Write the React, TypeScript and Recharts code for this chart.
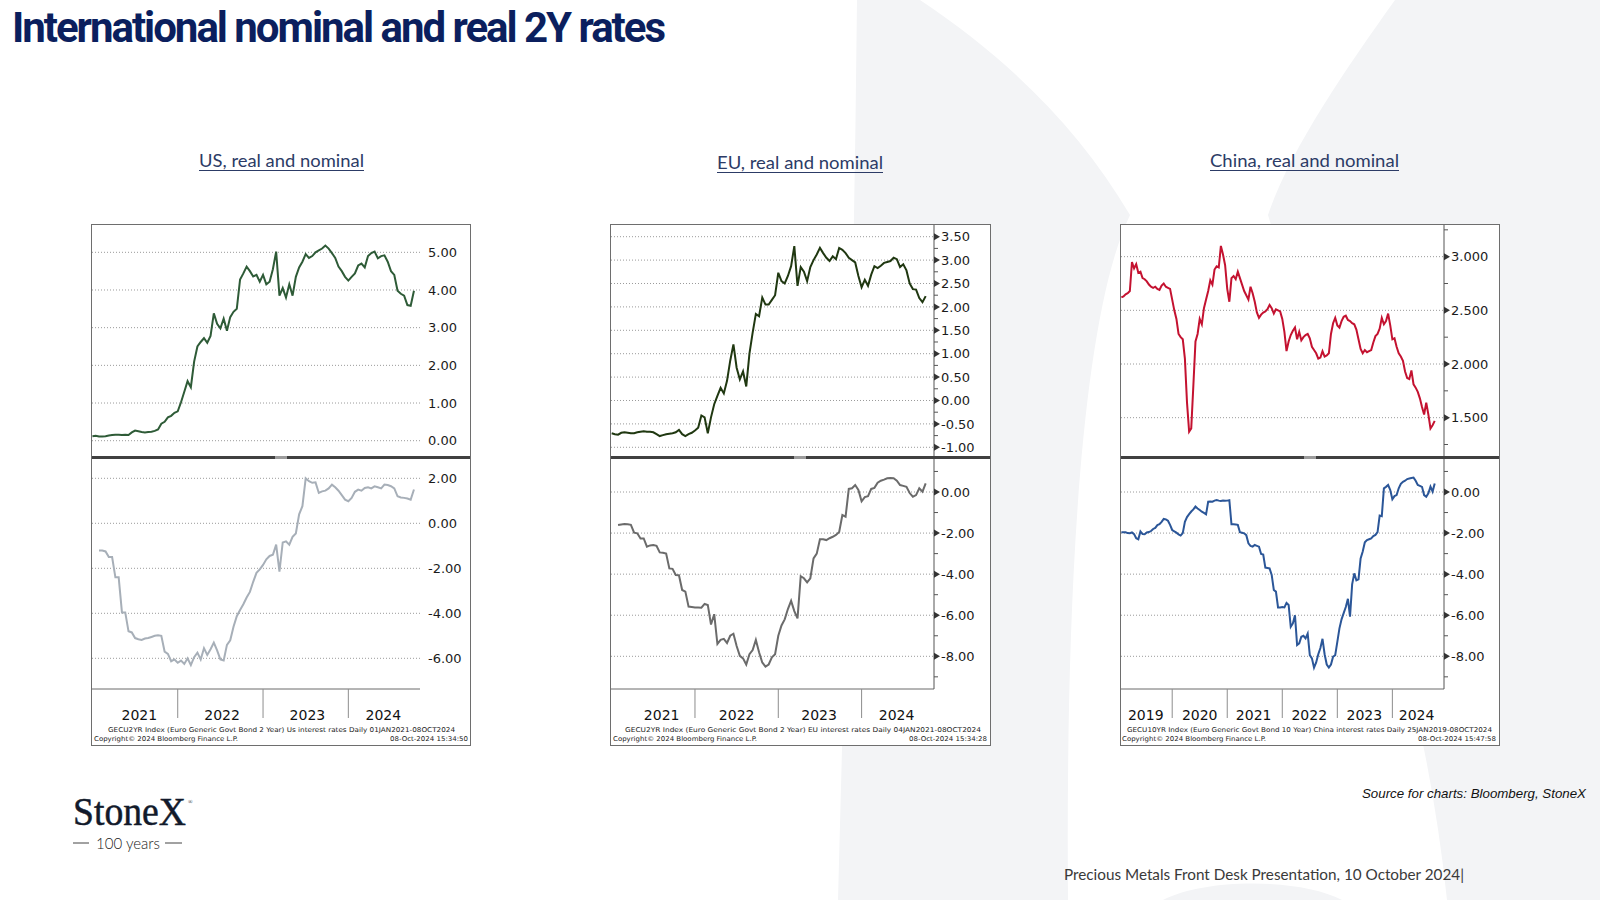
import React from "react";
import { LineChart, Line, XAxis, YAxis, CartesianGrid } from "recharts";

// bi-weekly readings (26 per year) taken off the Bloomberg panels
const usNominal = [
  0.12, 0.13, 0.11, 0.11, 0.12, 0.14, 0.15, 0.16, 0.16, 0.15, 0.16, 0.15, 0.22, 0.27, 0.25, 0.23, 0.22, 0.23, 0.24, 0.26, 0.3, 0.45, 0.5, 0.62, 0.66, 0.74,
  0.78, 1.02, 1.3, 1.58, 1.42, 2.1, 2.5, 2.62, 2.72, 2.6, 2.78, 3.38, 3.1, 2.98, 3.24, 2.92, 3.28, 3.42, 3.5, 4.28, 4.44, 4.62, 4.5, 4.36, 4.4, 4.22,
  4.4, 4.15, 4.22, 4.55, 5.02, 3.85, 4.05, 3.8, 4.15, 3.85, 4.35, 4.6, 4.75, 4.95, 4.85, 4.9, 5.0, 5.05, 5.1, 5.18, 5.1, 4.98, 4.85, 4.62, 4.5, 4.35,
  4.25, 4.35, 4.44, 4.65, 4.7, 4.6, 4.9, 4.98, 5.02, 4.84, 4.9, 4.92, 4.75, 4.5, 4.4, 3.98, 3.9, 3.85, 3.6, 3.58, 3.98,
];
const usReal = [
  -1.21, -1.21, -1.25, -1.5, -1.5, -2.4, -2.4, -3.96, -3.96, -4.8,
  -4.85, -5.1, -5.15, -5.18, -5.12, -5.1, -5.05, -5.0, -4.98, -5.0,
  -5.7, -5.8, -6.13, -6.05, -6.2, -6.1, -6.25, -6.0, -6.3, -5.95,
  -5.75, -6.05, -5.55, -5.85, -5.6, -5.3, -5.65, -6.05, -6.1, -5.4,
  -5.2, -4.6, -4.13, -3.85, -3.6, -3.3, -3.05, -2.6, -2.2, -2.05,
  -1.85, -1.6, -1.45, -1.4, -0.95, -2.15, -0.85, -0.8, -0.95, -0.6,
  -0.45, 0.4, 0.76, 2.0, 1.87, 1.8, 1.82, 1.35, 1.42, 1.45,
  1.55, 1.72, 1.6, 1.45, 1.25, 1.05, 0.98, 1.13, 1.4, 1.5,
  1.45, 1.57, 1.6, 1.55, 1.64, 1.6, 1.55, 1.72, 1.7, 1.65,
  1.55, 1.2, 1.15, 1.13, 1.1, 1.05, 1.5,
];
const euNominal = [
  -0.7, -0.72, -0.73, -0.69, -0.68, -0.69, -0.7, -0.7, -0.68, -0.67,
  -0.66, -0.67, -0.67, -0.68, -0.72, -0.76, -0.74, -0.72, -0.71, -0.7,
  -0.68, -0.63, -0.72, -0.76, -0.72, -0.69, -0.64, -0.58, -0.32, -0.36,
  -0.7, -0.36, -0.08, 0.1, 0.27, 0.15, 0.42, 0.85, 1.2, 0.7,
  0.45, 0.62, 0.3, 1.0, 1.45, 1.85, 1.8, 2.2, 2.05, 2.05,
  2.15, 2.25, 2.73, 2.55, 2.5, 2.66, 2.87, 3.3, 2.45, 2.85,
  2.75, 2.55, 2.85, 3.0, 3.12, 3.26, 3.15, 3.05, 2.98, 3.08,
  3.02, 3.26, 3.22, 3.15, 3.05, 3.0, 2.95, 2.66, 2.42, 2.58,
  2.45, 2.69, 2.87, 2.83, 2.88, 2.94, 2.96, 2.98, 3.05, 3.02,
  2.85, 2.91, 2.78, 2.5, 2.38, 2.37, 2.19, 2.1, 2.23,
];
const euReal = [
  -1.61, -1.58, -1.56, -1.57, -1.6, -1.98, -2.01, -2.26, -2.26, -2.66,
  -2.6, -2.58, -2.62, -2.94, -2.96, -3.0, -3.72, -3.74, -4.04, -4.05,
  -4.77, -4.85, -5.58, -5.6, -5.62, -5.62, -5.63, -5.45, -5.5, -6.45,
  -5.95, -7.4, -7.2, -7.15, -7.35, -7.0, -6.9, -7.5, -7.98, -8.1,
  -8.4, -7.9, -7.7, -7.2, -7.8, -8.3, -8.5, -8.4, -8.05, -7.9,
  -7.0, -6.5, -6.2, -5.7, -5.3, -5.8, -6.15, -4.1, -4.2, -4.4,
  -4.2, -3.23, -3.0, -2.3, -2.3, -2.34, -2.25, -2.18, -2.09, -1.95,
  -1.12, -1.2, 0.15, 0.18, 0.34, 0.1, -0.45, -0.25, -0.2, 0.15,
  0.2, 0.45, 0.55, 0.6, 0.67, 0.68, 0.67, 0.55, 0.34, 0.3,
  0.25, -0.05, -0.23, -0.15, 0.18, 0.02, 0.42,
];
const cnNominal = [
  2.62, 2.63, 2.65, 2.66, 2.68, 2.95, 2.89, 2.93, 2.85, 2.86,
  2.8, 2.79, 2.77, 2.74, 2.72, 2.71, 2.72, 2.7, 2.69, 2.73,
  2.75, 2.72, 2.71, 2.7, 2.6, 2.5, 2.42, 2.28, 2.25, 2.23,
  2.05, 1.64, 1.37, 1.4, 1.8, 2.21, 2.28, 2.42, 2.37, 2.52,
  2.6, 2.68, 2.78, 2.74, 2.88, 2.91, 2.9, 3.1, 3.02, 2.92,
  2.7, 2.58, 2.8, 2.82, 2.79, 2.86, 2.8, 2.74, 2.68, 2.64,
  2.6, 2.72, 2.66, 2.58, 2.48, 2.43, 2.46, 2.48, 2.49, 2.51,
  2.55, 2.52, 2.47, 2.51, 2.5, 2.49, 2.42, 2.3, 2.12, 2.21,
  2.27, 2.31, 2.34, 2.23, 2.3, 2.22, 2.25, 2.27, 2.28, 2.24,
  2.16, 2.13, 2.1, 2.05, 2.06, 2.12, 2.07, 2.08, 2.1, 2.28,
  2.38, 2.43, 2.36, 2.34, 2.4, 2.44, 2.45, 2.41, 2.4, 2.38,
  2.37, 2.32, 2.23, 2.14, 2.1, 2.13, 2.11, 2.12, 2.13, 2.2,
  2.26, 2.28, 2.33, 2.43, 2.37, 2.4, 2.47, 2.36, 2.23, 2.24,
  2.16, 2.1, 2.07, 2.03, 1.93, 1.87, 1.86, 1.94, 1.81, 1.78,
  1.74, 1.68, 1.6, 1.53, 1.64, 1.53, 1.4, 1.43, 1.47,
];
const cnReal = [
  -1.96, -1.96, -1.96, -2.0, -2.01, -1.97, -2.05, -2.25, -2.3, -1.92,
  -2.05, -2.06, -1.97, -1.95, -1.9, -1.8, -1.75, -1.61, -1.57, -1.45,
  -1.31, -1.33, -1.4, -1.6, -1.85, -1.92, -1.98, -2.06, -2.12, -2.0,
  -1.45, -1.22, -1.08, -0.95, -0.85, -0.71, -0.8, -0.88, -0.96, -1.02,
  -1.09, -0.47, -0.46, -0.47, -0.42, -0.39, -0.42, -0.44, -0.42, -0.43,
  -0.42, -0.4, -1.57, -1.57, -1.58, -1.6, -1.96, -1.98, -2.01, -2.1,
  -2.5, -2.62, -2.66, -2.58, -2.62, -2.66, -3.02, -3.05, -3.68, -3.7,
  -3.72, -4.04, -4.77, -4.85, -5.62, -5.62, -5.6, -5.62, -5.4, -5.5,
  -6.56, -6.4, -6.0, -7.45, -7.37, -7.05, -7.0, -7.13, -6.9, -7.94,
  -8.1, -8.55, -8.3, -7.9, -7.6, -7.15, -7.9, -8.4, -8.55, -8.4,
  -8.02, -7.95, -7.3, -6.64, -6.2, -5.9, -5.6, -5.2, -6.07, -4.5,
  -3.96, -4.3, -4.25, -3.23, -2.9, -2.45, -2.34, -2.3, -2.26, -2.15,
  -2.09, -1.95, -1.15, -1.18, 0.18, 0.25, 0.34, 0.1, -0.35, -0.2,
  -0.15, 0.18, 0.4, 0.5, 0.55, 0.63, 0.66, 0.68, 0.7, 0.55,
  0.34, 0.3, 0.25, -0.15, -0.23, -0.06, 0.26, 0.02, 0.42,
];

// axis ticks
const usTopTicks = [0, 1, 2, 3, 4, 5];
const usLowTicks = [-6, -4, -2, 0, 2];
const euTopTicks = [-1, -0.5, 0, 0.5, 1, 1.5, 2, 2.5, 3, 3.5];
const euTopMinor = [-0.75, -0.25, 0.25, 0.75, 1.25, 1.75, 2.25, 2.75, 3.25];
const lowTicks = [-8, -6, -4, -2, 0];
const lowMinor = [-9, -7, -5, -3, -1, 1];
const cnTopTicks = [1.5, 2, 2.5, 3];
const cnTopMinor = [1.25, 1.75, 2.25, 2.75, 3.25];

const years2021 = ["2021", "2022", "2023", "2024"];
const years2019 = ["2019", "2020", "2021", "2022", "2023", "2024"];
const usYearCenters = [2021.55, 2022.52, 2023.52, 2024.41];
const euYearCenters = [2021.6, 2022.5, 2023.49, 2024.42];
const cnYearCenters = [2019.52, 2020.5, 2021.48, 2022.49, 2023.49, 2024.44];
const bounds2021 = [2022, 2023, 2024];
const bounds2019 = [2020, 2021, 2022, 2023, 2024];

const PER_YEAR = 26;
const toRows = (vals: number[], startYear: number, firstIdx: number) =>
  vals.map((v, k) => ({ t: startYear + (firstIdx + k) / PER_YEAR, v }));

const AXIS_FONT = "'DejaVu Sans', Verdana, sans-serif";
const X_AXIS_H = 36;

type Years = { bounds: number[]; centers: number[]; labels: string[] };

type PanelProps = {
  x: number;
  y: number;
  w: number;
  h: number;
  axisW: number;
  rows: { t: number; v: number }[];
  xDomain: [number, number];
  yDomain: [number, number];
  major: number[];
  minor: number[];
  digits: number;
  color: string;
  arrows: boolean;
  years?: Years;
};

function YTick(props: any) {
  const { x, y, payload, major, digits, arrows } = props;
  const v = payload.value as number;
  const isMajor = major.some((m: number) => Math.abs(m - v) < 1e-9);
  if (!isMajor) {
    return <line x1={x} x2={x + 4} y1={y} y2={y} stroke="#555" />;
  }
  return (
    <g>
      {arrows && <polygon points={`${x},${y - 3.5} ${x + 6},${y} ${x},${y + 3.5}`} fill="#333" />}
      <text x={x + (arrows ? 7 : 8)} y={y + 4.7} fontSize={13} fontFamily={AXIS_FONT} fill="#1b1b1b">
        {v.toFixed(digits)}
      </text>
    </g>
  );
}

function XTick(props: any) {
  const { x, y, payload, years } = props;
  const v = payload.value as number;
  if (years.bounds.indexOf(v) >= 0) {
    return <line x1={x} x2={x} y1={y} y2={y + 29} stroke="#8d8d8d" />;
  }
  const ci = years.centers.indexOf(v);
  return (
    <text x={x} y={y + 31} textAnchor="middle" fontSize={14} fontFamily={AXIS_FONT} fill="#111">
      {years.labels[ci]}
    </text>
  );
}

function Panel(p: PanelProps) {
  const yTicks = [...p.major, ...p.minor].sort((a, b) => a - b);
  const xTicks = p.years ? [...p.years.bounds, ...p.years.centers].sort((a, b) => a - b) : undefined;
  return (
    <div style={{ position: "absolute", left: p.x, top: p.y }}>
      <LineChart width={p.w} height={p.h} data={p.rows} margin={{ top: 0, right: 0, bottom: 0, left: 0 }}>
        <CartesianGrid vertical={false} horizontalValues={p.major} stroke="#9a9a9a" strokeDasharray="1 2" />
        <XAxis
          dataKey="t"
          type="number"
          domain={p.xDomain}
          allowDataOverflow
          hide={!p.years}
          ticks={xTicks}
          interval={0}
          height={X_AXIS_H}
          tickSize={0}
          tickMargin={0}
          tickLine={false}
          axisLine={{ stroke: "#6b6b6b" }}
          tick={(tp: any) => <XTick {...tp} years={p.years} />}
        />
        <YAxis
          orientation="right"
          type="number"
          domain={p.yDomain}
          allowDataOverflow
          ticks={yTicks}
          interval={0}
          width={p.axisW}
          tickSize={0}
          tickMargin={0}
          tickLine={false}
          axisLine={p.arrows ? { stroke: "#555" } : false}
          tick={(tp: any) => <YTick {...tp} major={p.major} digits={p.digits} arrows={p.arrows} />}
        />
        <Line dataKey="v" type="linear" stroke={p.color} strokeWidth={2} dot={false} isAnimationActive={false} />
      </LineChart>
    </div>
  );
}

const boxes = [
  { left: 91, w: 380, handle: 275 },
  { left: 610, w: 381, handle: 794 },
  { left: 1120, w: 380, handle: 1304 },
];

const LOW_TOP = 459;
const LOW_H = 689 - LOW_TOP + X_AXIS_H;

export default function App() {
  const foot = { fontFamily: AXIS_FONT, fontSize: 6.6, fill: "#222" } as const;
  const link = { fontFamily: "Lato, 'Open Sans', sans-serif", fontSize: 17, fill: "#2c3b66" } as const;
  return (
    <div style={{ position: "absolute", left: 0, top: 0, width: 1600, height: 900, overflow: "hidden", background: "#fff" }}>
      <svg width={1600} height={900} style={{ position: "absolute", left: 0, top: 0 }}>
        <path d="M 857 0 L 1600 0 L 1600 900 L 838 900 C 846 600 854 300 857 0 Z" fill="#f3f4f6" />
        <path
          d="M 920 0 L 1395 0 C 1345 70 1290 150 1268 215 C 1330 420 1420 640 1447 900 L 1342 900 C 1300 878 1205 878 1163 900 L 1068 900 C 1066 650 1075 330 1130 215 C 1080 130 1010 60 920 0 Z"
          fill="#ffffff"
        />
      </svg>

      {boxes.map((b) => (
        <div
          key={b.left}
          style={{ position: "absolute", left: b.left, top: 224, width: b.w, height: 522, border: "1px solid #6e6e6e", boxSizing: "border-box", background: "#fff" }}
        />
      ))}

      <Panel x={92} y={225} w={378} h={231} axisW={50} rows={toRows(usNominal, 2021, 0)} xDomain={[2020.995, 2024.84]} yDomain={[-0.406, 5.725]} major={usTopTicks} minor={[]} digits={2} color="#2e5b37" arrows={false} />
      <Panel x={92} y={LOW_TOP} w={378} h={LOW_H} axisW={50} rows={toRows(usReal, 2021, 2)} xDomain={[2020.995, 2024.84]} yDomain={[-7.364, 2.858]} major={usLowTicks} minor={[]} digits={2} color="#a7afb8" arrows={false} years={{ bounds: bounds2021, centers: usYearCenters, labels: years2021 }} />

      <Panel x={611} y={225} w={379} h={231} axisW={56} rows={toRows(euNominal, 2021, 0)} xDomain={[2020.992, 2024.869]} yDomain={[-1.186, 3.75]} major={euTopTicks} minor={euTopMinor} digits={2} color="#203811" arrows />
      <Panel x={611} y={LOW_TOP} w={379} h={LOW_H} axisW={56} rows={toRows(euReal, 2021, 2)} xDomain={[2020.992, 2024.869]} yDomain={[-9.592, 1.607]} major={lowTicks} minor={lowMinor} digits={2} color="#6b6b6b" arrows years={{ bounds: bounds2021, centers: euYearCenters, labels: years2021 }} />

      <Panel x={1121} y={225} w={378} h={231} axisW={55} rows={toRows(cnNominal, 2019, 2)} xDomain={[2019.07, 2024.938]} yDomain={[1.143, 3.295]} major={cnTopTicks} minor={cnTopMinor} digits={3} color="#c41230" arrows />
      <Panel x={1121} y={LOW_TOP} w={378} h={LOW_H} axisW={55} rows={toRows(cnReal, 2019, 2)} xDomain={[2019.07, 2024.938]} yDomain={[-9.592, 1.607]} major={lowTicks} minor={lowMinor} digits={2} color="#2b5698" arrows years={{ bounds: bounds2019, centers: cnYearCenters, labels: years2019 }} />

      {boxes.map((b) => (
        <React.Fragment key={"sep" + b.left}>
          <div style={{ position: "absolute", left: b.left + 1, top: 456, width: b.w - 2, height: 3, background: "#404040" }} />
          <div style={{ position: "absolute", left: b.handle, top: 456, width: 12, height: 3, background: "#9c9c9c" }} />
        </React.Fragment>
      ))}

      <svg width={1600} height={900} style={{ position: "absolute", left: 0, top: 0, pointerEvents: "none" }}>
        <text x={12} y={42} fontFamily="Roboto, sans-serif" fontWeight={700} fontSize={42} fill="#0b1f5e" textLength={654} lengthAdjust="spacing">
          International nominal and real 2Y rates
        </text>

        <text x={199} y={167} {...link} textLength={165} lengthAdjust="spacingAndGlyphs">US, real and nominal</text>
        <line x1={199} x2={364} y1={170.5} y2={170.5} stroke="#2c3b66" strokeWidth={1} />
        <text x={717} y={169} {...link} textLength={166} lengthAdjust="spacingAndGlyphs">EU, real and nominal</text>
        <line x1={717} x2={883} y1={172.5} y2={172.5} stroke="#2c3b66" strokeWidth={1} />
        <text x={1210} y={167} {...link} textLength={189} lengthAdjust="spacingAndGlyphs">China, real and nominal</text>
        <line x1={1210} x2={1399} y1={170.5} y2={170.5} stroke="#2c3b66" strokeWidth={1} />

        <text x={108} y={732} {...foot} textLength={347} lengthAdjust="spacingAndGlyphs">
          GECU2YR Index (Euro Generic Govt Bond 2 Year) Us interest rates  Daily 01JAN2021-08OCT2024
        </text>
        <text x={94} y={741} {...foot} textLength={144} lengthAdjust="spacingAndGlyphs">Copyright© 2024 Bloomberg Finance L.P.</text>
        <text x={390} y={741} {...foot} textLength={78} lengthAdjust="spacingAndGlyphs">08-Oct-2024 15:34:50</text>

        <text x={625} y={732} {...foot} textLength={356} lengthAdjust="spacingAndGlyphs">
          GECU2YR Index (Euro Generic Govt Bond 2 Year) EU interest rates  Daily 04JAN2021-08OCT2024
        </text>
        <text x={613} y={741} {...foot} textLength={144} lengthAdjust="spacingAndGlyphs">Copyright© 2024 Bloomberg Finance L.P.</text>
        <text x={909} y={741} {...foot} textLength={78} lengthAdjust="spacingAndGlyphs">08-Oct-2024 15:34:28</text>

        <text x={1127} y={732} {...foot} textLength={365} lengthAdjust="spacingAndGlyphs">
          GECU10YR Index (Euro Generic Govt Bond 10 Year) China interest rates  Daily 25JAN2019-08OCT2024
        </text>
        <text x={1122} y={741} {...foot} textLength={144} lengthAdjust="spacingAndGlyphs">Copyright© 2024 Bloomberg Finance L.P.</text>
        <text x={1418} y={741} {...foot} textLength={78} lengthAdjust="spacingAndGlyphs">08-Oct-2024 15:47:58</text>

        <text x={73} y={825} fontFamily="'Liberation Serif', serif" fontSize={40} fill="#121a2b" stroke="#121a2b" strokeWidth={0.5}>
          <tspan textLength={113} lengthAdjust="spacingAndGlyphs">StoneX</tspan>
          <tspan dx={2} dy={-21} fontSize={6} strokeWidth={0}>®</tspan>
        </text>
        <line x1={73} x2={89} y1={843} y2={843} stroke="#444" strokeWidth={1} />
        <line x1={165} x2={182} y1={843} y2={843} stroke="#444" strokeWidth={1} />
        <text x={96} y={848.5} fontFamily="Lato, sans-serif" fontWeight={300} fontSize={15} fill="#222" textLength={64} lengthAdjust="spacingAndGlyphs">
          100 years
        </text>

        <text x={1362} y={798} fontFamily="'Liberation Sans', Arial, sans-serif" fontStyle="italic" fontSize={13} fill="#111" textLength={224} lengthAdjust="spacingAndGlyphs">
          Source for charts: Bloomberg, StoneX
        </text>
        <text x={1064} y={880} fontFamily="Lato, 'Open Sans', sans-serif" fontSize={16} fill="#3a3a3a" textLength={400} lengthAdjust="spacingAndGlyphs">
          Precious Metals Front Desk Presentation, 10 October 2024|
        </text>
      </svg>
    </div>
  );
}
